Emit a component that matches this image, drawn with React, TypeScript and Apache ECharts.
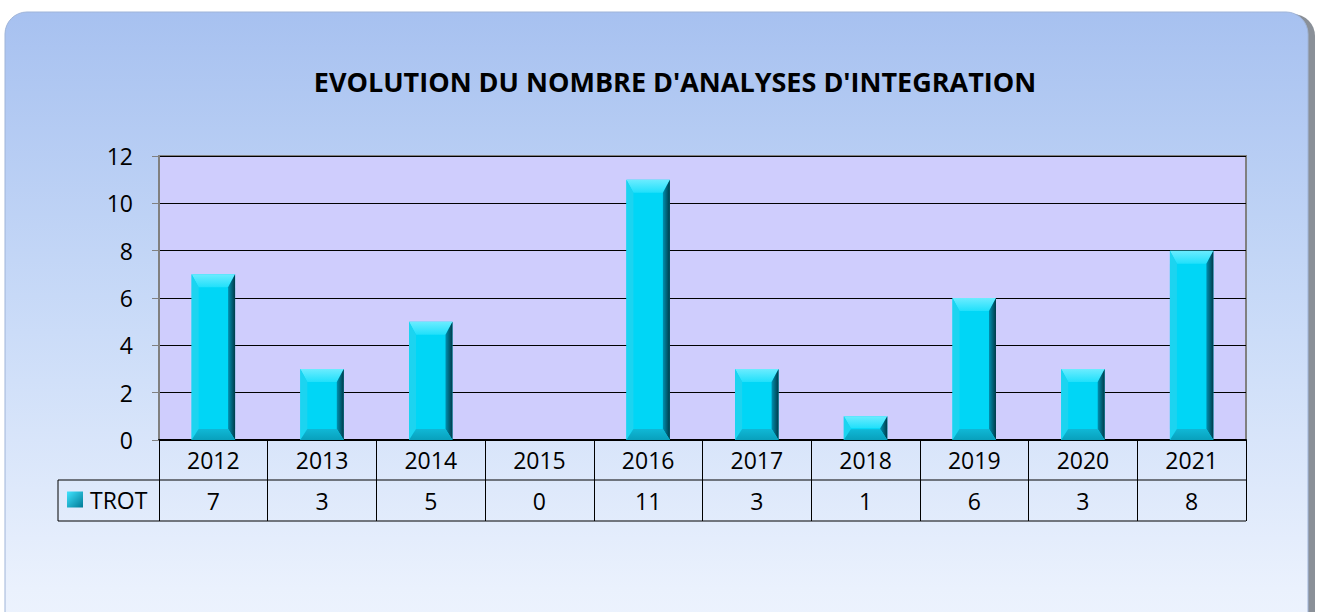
import React, { useEffect, useRef } from "react";
import * as echarts from "echarts";

const TITLE = "EVOLUTION DU NOMBRE D'ANALYSES D'INTEGRATION";
const SERIES_NAME = "TROT";
const YEARS = ["2012", "2013", "2014", "2015", "2016", "2017", "2018", "2019", "2020", "2021"];
const VALUES = [7, 3, 5, 0, 11, 3, 1, 6, 3, 8];
const Y_MIN = 0;
const Y_MAX = 12;
const Y_INTERVAL = 2;

const FONT = "'Open Sans', 'Noto Sans', sans-serif";

export default function App() {
  const ref = useRef<HTMLDivElement>(null);
  useEffect(() => {
    if (!ref.current) return;
    const chart = echarts.init(ref.current, null, { renderer: "svg" });
    const gridLeft = 159;
    const gridRight = 1246;
    const gridTop = 156;
    const gridBottom = 440;
    const row1 = 480;
    const row2 = 521;

    const renderBar = (params: any, api: any) => {
      const idx = api.value(0);
      const v = api.value(1);
      if (!v) return { type: "group", children: [] };
      const top = api.coord([idx, v]);
      const base = api.coord([idx, 0]);
      const w = api.size([1, 0])[0] * 0.4;
      const x0 = top[0] - w / 2;
      const x1 = top[0] + w / 2;
      const y0 = top[1];
      const y1 = base[1];
      const h = y1 - y0;
      const bt = Math.min(13, h * 0.5);
      const bb = Math.min(11, h * 0.45);
      const bx = 7;
      return {
        type: "group",
        children: [
          {
            type: "rect",
            shape: { x: x0, y: y0, width: w, height: h },
            style: { fill: "#00d6f6" },
          },
          {
            type: "polygon",
            shape: { points: [[x0, y0], [x1, y0], [x1 - bx, y0 + bt], [x0 + bx, y0 + bt]] },
            style: {
              fill: new echarts.graphic.LinearGradient(0, 0, 0, 1, [
                { offset: 0, color: "#6cecff" },
                { offset: 1, color: "#20e0fb" },
              ]),
            },
          },
          {
            type: "polygon",
            shape: { points: [[x0, y0], [x0 + bx, y0 + bt], [x0 + bx, y1 - bb], [x0, y1]] },
            style: { fill: "#1cd4f0" },
          },
          {
            type: "polygon",
            shape: { points: [[x1, y0], [x1 - bx, y0 + bt], [x1 - bx, y1 - bb], [x1, y1]] },
            style: {
              fill: new echarts.graphic.LinearGradient(0, 0, 1, 0, [
                { offset: 0, color: "#0090b0" },
                { offset: 1, color: "#003a48" },
              ]),
            },
          },
          {
            type: "polygon",
            shape: { points: [[x0, y1], [x0 + bx, y1 - bb], [x1 - bx, y1 - bb], [x1, y1]] },
            style: {
              fill: new echarts.graphic.LinearGradient(0, 0, 0, 1, [
                { offset: 0, color: "#10b8d6" },
                { offset: 1, color: "#08a0bc" },
              ]),
            },
          },
        ],
      };
    };

    chart.setOption({
      animation: false,
      graphic: [
        {
          type: "rect",
          z: -10,
          silent: true,
          shape: { x: 9, y: 14, width: 1306, height: 640, r: 22 },
          style: { fill: "#8a9098" },
        },
        {
          type: "rect",
          z: -9,
          silent: true,
          shape: { x: 5, y: 12, width: 1303, height: 640, r: 22 },
          style: {
            fill: new echarts.graphic.LinearGradient(0, 0, 0, 1, [
              { offset: 0, color: "#a7c1f0" },
              { offset: 0.5, color: "#cbdcf8" },
              { offset: 0.9, color: "#eaf1fd" },
              { offset: 1, color: "#eef4fe" },
            ]),
            stroke: "#9fb4d8",
            lineWidth: 1,
          },
        },
        {
          type: "text",
          z: 10,
          style: {
            x: 675,
            y: 81,
            text: TITLE,
            align: "center",
            verticalAlign: "middle",
            fontFamily: FONT,
            fontWeight: "bold",
            fontSize: 27,
            fill: "#000",
          },
        },
        {
          type: "rect",
          z: -1,
          silent: true,
          shape: { x: gridLeft, y: gridTop, width: gridRight - gridLeft, height: gridBottom - gridTop },
          style: { fill: "#cfcdfd", stroke: "#808080", lineWidth: 2 },
        },
        {
          type: "line",
          z: 5,
          shape: { x1: 58, y1: row1, x2: gridRight, y2: row1 },
          style: { stroke: "#000", lineWidth: 1 },
        },
        {
          type: "line",
          z: 5,
          shape: { x1: 58, y1: row2, x2: gridRight, y2: row2 },
          style: { stroke: "#000", lineWidth: 1 },
        },
        {
          type: "line",
          z: 5,
          shape: { x1: 58, y1: row1, x2: 58, y2: row2 },
          style: { stroke: "#000", lineWidth: 1 },
        },
      ],
      legend: {
        left: 67,
        top: 488,
        padding: [0, 0, 0, 0],
        itemWidth: 16,
        itemHeight: 16,
        itemGap: 4,
        textStyle: { fontFamily: FONT, fontSize: 23, color: "#000", padding: [0, 0, 0, 2] },
        data: [
          {
            name: SERIES_NAME,
            icon: "rect",
            itemStyle: {
              color: new echarts.graphic.LinearGradient(0, 0, 1, 1, [
                { offset: 0, color: "#40e4ff" },
                { offset: 1, color: "#007a96" },
              ]),
            },
          },
        ],
      },
      grid: {
        left: gridLeft,
        right: 1317 - gridRight,
        top: gridTop,
        bottom: 612 - gridBottom,
        containLabel: false,
      },
      xAxis: {
        type: "category",
        data: YEARS,
        boundaryGap: true,
        axisLine: { show: true, lineStyle: { color: "#000", width: 2 } },
        axisTick: { show: true, alignWithLabel: false, interval: 0, length: row2 - gridBottom, lineStyle: { color: "#000", width: 1 } },
        axisLabel: {
          interval: 0,
          margin: 0,
          formatter: (val: string, i: number) => `{a|${val}}\n{b|${VALUES[i]}}`,
          rich: {
            a: { fontFamily: FONT, fontSize: 23, color: "#000", lineHeight: 40, height: 40 },
            b: { fontFamily: FONT, fontSize: 23, color: "#000", lineHeight: 41, height: 41 },
          },
        },
        splitLine: { show: false },
      },
      yAxis: {
        type: "value",
        min: Y_MIN,
        max: Y_MAX,
        interval: Y_INTERVAL,
        axisLine: { show: true, lineStyle: { color: "#808080", width: 2 } },
        axisTick: { show: true, length: 7, lineStyle: { color: "#808080" } },
        axisLabel: { fontFamily: FONT, fontSize: 23, color: "#000", margin: 26 },
        splitLine: { show: true, lineStyle: { color: "#000", width: 1 } },
      },
      series: [
        {
          name: SERIES_NAME,
          type: "custom",
          renderItem: renderBar,
          encode: { x: 0, y: 1 },
          data: VALUES.map((v, i) => [i, v]),
          z: 3,
        },
      ],
    });
    return () => chart.dispose();
  }, []);
  return (
    <div
      ref={ref}
      style={{ position: "absolute", left: 0, top: 0, width: 1317, height: 612, background: "#fff" }}
    />
  );
}
